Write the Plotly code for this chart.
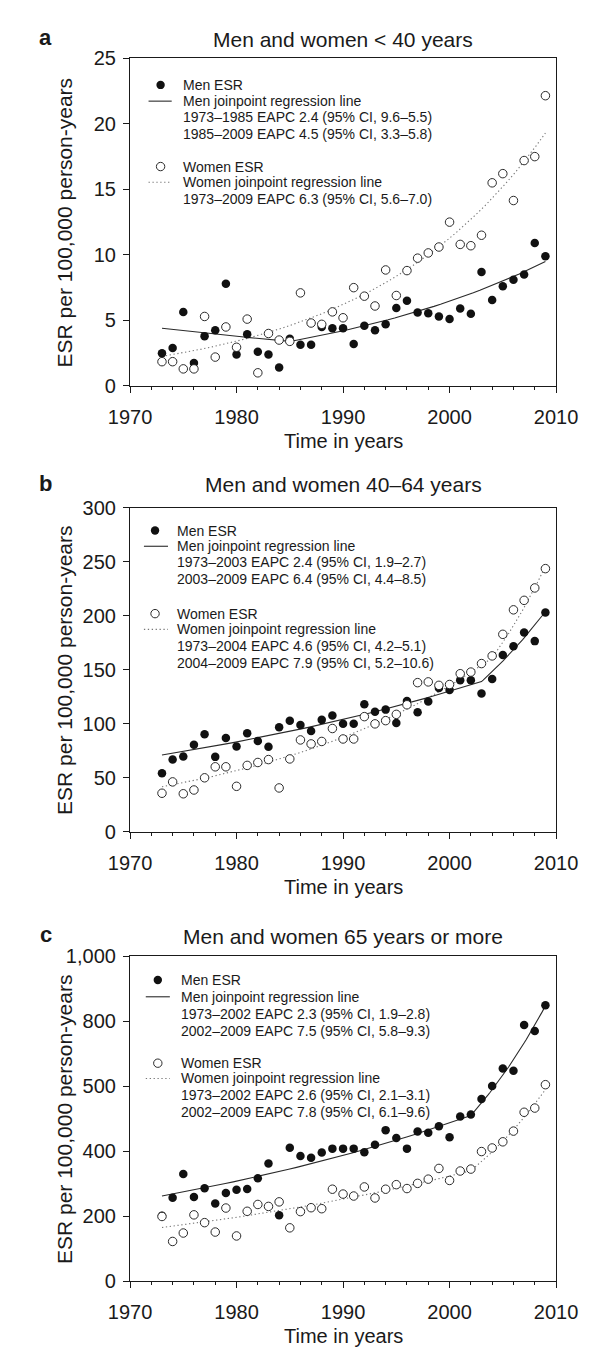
import numpy as np
import plotly.graph_objects as go

W, H = 596, 1349
FONT = "Liberation Sans, Arial, Helvetica, sans-serif"
INK = "#1a1a1a"

YEARS = list(range(1973, 2010))

# ---------------- Panel a : < 40 years ----------------
MEN_A = [2.5, 2.9, 5.65, 1.75, 3.8, 4.25, 7.8, 2.4, 3.95, 2.6, 2.4, 1.4, 3.6, 3.15, 3.15,
         4.5, 4.4, 4.4, 3.2, 4.6, 4.25, 4.7, 5.95, 6.5, 5.6, 5.55, 5.3, 5.1, 5.9, 5.5,
         8.7, 6.55, 7.6, 8.1, 8.5, 10.9, 9.9]
WOMEN_A = [1.85, 1.85, 1.3, 1.3, 5.3, 2.2, 4.5, 2.95, 5.1, 1.0, 4.0, 3.5, 3.4, 7.1, 4.8,
           4.7, 5.65, 5.2, 7.5, 6.85, 6.1, 8.85, 6.9, 8.8, 9.75, 10.15, 10.6, 12.5, 10.8,
           10.7, 11.5, 15.5, 16.2, 14.15, 17.2, 17.5, 22.15]
MEN_A_KNOT_YEARS = [1973, 1985, 2009]
MEN_A_KNOT_VALUES = [4.4, 3.4, 9.5]
WOMEN_A_KNOT_YEARS = [1973, 2009]
WOMEN_A_KNOT_VALUES = [2.25, 19.3]

# ---------------- Panel b : 40-64 years ----------------
MEN_B = [54, 66.7, 69.5, 80.4, 90.1, 69.2, 86.7, 78.8, 91, 84, 78.5, 96.7, 102.8, 98.8,
         93.2, 103.5, 107.5, 99.8, 99.8, 118, 111, 113, 100.5, 121, 110.5, 120.5, 133,
         131.2, 140.3, 140.3, 128, 141.5, 163.6, 171.7, 184.5, 176.5, 203]
WOMEN_B = [35.5, 46, 35, 38.5, 49.8, 60, 60, 41.9, 61.3, 64, 66.7, 40.4, 67.3, 84.9, 81.2,
           83.5, 95.5, 85.8, 85.8, 106.5, 99.8, 102.8, 108.6, 117.5, 138, 138.7, 135.5,
           136.3, 146.3, 147.8, 155.7, 162.8, 182.8, 205.5, 214.3, 225.8, 243.7]
MEN_B_KNOT_YEARS = [1973, 2003, 2009]
MEN_B_KNOT_VALUES = [71, 139, 204]
WOMEN_B_KNOT_YEARS = [1973, 2004, 2009]
WOMEN_B_KNOT_VALUES = [41.5, 161, 246]

# ---------------- Panel c : 65 years or more ----------------
MEN_C = [201, 257, 330, 259, 286, 239, 271, 281, 284, 317, 362, 203, 411, 385, 380, 396,
         408, 408, 408, 397, 420, 465, 441, 408, 461, 457, 477, 443, 507, 513, 561, 601,
         655, 648, 789, 770, 850]
WOMEN_C = [199, 122, 148, 204, 180, 151, 225, 139, 215, 236, 230, 244, 164, 214, 226, 223,
           283, 268, 262, 290, 256, 283, 297, 285, 301, 314, 347, 310, 339, 345, 399, 410,
           429, 462, 520, 533, 605]
MEN_C_KNOT_YEARS = [1973, 2002, 2009]
MEN_C_KNOT_VALUES = [262, 510, 848]
WOMEN_C_KNOT_YEARS = [1973, 2002, 2009]
WOMEN_C_KNOT_VALUES = [165, 340, 590]

TITLES = ["Men and women < 40 years", "Men and women 40–64 years",
          "Men and women 65 years or more"]
LETTERS = ["a", "b", "c"]
Y_RANGES = [[0, 25], [0, 300], [0, 1000]]
Y_TICKVALS = [[0, 5, 10, 15, 20, 25], [0, 50, 100, 150, 200, 250, 300],
              [0, 200, 400, 600, 800, 1000]]
Y_TICKTEXT = [["0", "5", "10", "15", "20", "25"],
              ["0", "50", "100", "150", "200", "250", "300"],
              ["0", "200", "400", "500", "800", "1,000"]]
X_TICKVALS = [1970, 1980, 1990, 2000, 2010]

LEGEND_TEXT = [
    ["Men ESR", "Men joinpoint regression line",
     "1973–1985 EAPC 2.4 (95% CI, 9.6–5.5)", "1985–2009 EAPC 4.5 (95% CI, 3.3–5.8)",
     "Women ESR", "Women joinpoint regression line",
     "1973–2009 EAPC 6.3 (95% CI, 5.6–7.0)"],
    ["Men ESR", "Men joinpoint regression line",
     "1973–2003 EAPC 2.4 (95% CI, 1.9–2.7)", "2003–2009 EAPC 6.4 (95% CI, 4.4–8.5)",
     "Women ESR", "Women joinpoint regression line",
     "1973–2004 EAPC 4.6 (95% CI, 4.2–5.1)", "2004–2009 EAPC 7.9 (95% CI, 5.2–10.6)"],
    ["Men ESR", "Men joinpoint regression line",
     "1973–2002 EAPC 2.3 (95% CI, 1.9–2.8)", "2002–2009 EAPC 7.5 (95% CI, 5.8–9.3)",
     "Women ESR", "Women joinpoint regression line",
     "1973–2002 EAPC 2.6 (95% CI, 2.1–3.1)", "2002–2009 EAPC 7.8 (95% CI, 6.1–9.6)"],
]

panels = [
    (MEN_A, WOMEN_A, MEN_A_KNOT_YEARS, MEN_A_KNOT_VALUES, WOMEN_A_KNOT_YEARS, WOMEN_A_KNOT_VALUES),
    (MEN_B, WOMEN_B, MEN_B_KNOT_YEARS, MEN_B_KNOT_VALUES, WOMEN_B_KNOT_YEARS, WOMEN_B_KNOT_VALUES),
    (MEN_C, WOMEN_C, MEN_C_KNOT_YEARS, MEN_C_KNOT_VALUES, WOMEN_C_KNOT_YEARS, WOMEN_C_KNOT_VALUES),
]

# ---- layout geometry (pixels) ----
PLOT_X0, PLOT_X1 = 108, 568
PLOT_Y = [(40, 373), (497, 826), (953, 1283)]
TITLE_Y = [21, 473, 933]
LETTER_Y = [19, 472, 931]
LEG_MARK_X = [141, 135, 138]
LEG_TEXT_X = [163, 157, 161]
LEG_LINE_X = [(128, 153), (123, 149), (125, 151)]
LEG_ROWS = [
    [67, 83.5, 100, 116.5, 150, 166, 183],
    [520, 536, 552.5, 569, 604.5, 620.5, 637.5, 655],
    [977, 994, 1012, 1029, 1061.5, 1077, 1094, 1111.5],
]
DOTTED = "1.3px,2.6px"


def pxx(x):
    return x / W


def pyy(y):
    return 1 - y / H


def joinpoint_curve(knot_years, knot_values, n=40):
    xs, ys = [], []
    for i in range(len(knot_years) - 1):
        t = np.linspace(knot_years[i], knot_years[i + 1], n)
        frac = (t - knot_years[i]) / (knot_years[i + 1] - knot_years[i])
        v = knot_values[i] * (knot_values[i + 1] / knot_values[i]) ** frac
        xs.extend(t.tolist())
        ys.extend(v.tolist())
    return xs, ys


fig = go.Figure()
annotations = []
shapes = []
layout_axes = {}

for i, (men, women, mky, mkv, wky, wkv) in enumerate(panels):
    sfx = "" if i == 0 else str(i + 1)
    xa, ya = "x" + sfx, "y" + sfx

    wx, wy = joinpoint_curve(wky, wkv)
    fig.add_trace(go.Scatter(x=wx, y=wy, mode="lines", xaxis=xa, yaxis=ya,
                             line=dict(color="#777777", width=1.1, dash=DOTTED),
                             showlegend=False, hoverinfo="skip"))
    mx, my = joinpoint_curve(mky, mkv)
    fig.add_trace(go.Scatter(x=mx, y=my, mode="lines", xaxis=xa, yaxis=ya,
                             line=dict(color="#2a2a2a", width=1.1),
                             showlegend=False, hoverinfo="skip"))
    fig.add_trace(go.Scatter(x=YEARS, y=men, mode="markers", xaxis=xa, yaxis=ya,
                             marker=dict(symbol="circle", size=8.5, color="#111111",
                                         line=dict(width=0)),
                             name="Men ESR", showlegend=False))
    fig.add_trace(go.Scatter(x=YEARS, y=women, mode="markers", xaxis=xa, yaxis=ya,
                             marker=dict(symbol="circle", size=8.5, color="white",
                                         line=dict(width=1, color="#2a2a2a")),
                             name="Women ESR", showlegend=False))

    y0, y1 = PLOT_Y[i]
    axis_common = dict(showline=True, linecolor=INK, linewidth=1.2, mirror=True,
                       ticks="outside", tickcolor=INK, tickwidth=1.1,
                       showgrid=False, zeroline=False,
                       tickfont=dict(family=FONT, size=20, color=INK))
    layout_axes["xaxis" + sfx] = dict(
        axis_common, domain=[pxx(PLOT_X0), pxx(PLOT_X1)], range=[1970, 2010],
        anchor=ya, tickvals=X_TICKVALS, ticklen=6, ticklabelstandoff=7,
        minor=dict(dtick=2, tick0=1970, ticks="outside", ticklen=3,
                   tickcolor=INK, tickwidth=1),
    )
    layout_axes["yaxis" + sfx] = dict(
        axis_common, domain=[pyy(y1), pyy(y0)], range=Y_RANGES[i], anchor=xa,
        tickvals=Y_TICKVALS[i], ticktext=Y_TICKTEXT[i], ticklen=6,
        ticklabelstandoff=3,
    )

    # titles and panel letters
    annotations.append(dict(text=TITLES[i], x=pxx((PLOT_X0 + PLOT_X1) / 2), y=pyy(TITLE_Y[i]),
                            xref="paper", yref="paper", showarrow=False,
                            xanchor="center", yanchor="middle",
                            font=dict(family=FONT, size=21, color=INK)))
    annotations.append(dict(text="<b>" + LETTERS[i] + "</b>", x=pxx(17), y=pyy(LETTER_Y[i]),
                            xref="paper", yref="paper", showarrow=False,
                            xanchor="center", yanchor="middle",
                            font=dict(family=FONT, size=22, color=INK)))
    # axis titles
    annotations.append(dict(text="ESR per 100,000 person-years", x=pxx(37),
                            y=pyy((y0 + y1) / 2), xref="paper", yref="paper",
                            showarrow=False, textangle=-90, xanchor="center",
                            yanchor="middle", font=dict(family=FONT, size=21, color=INK)))
    annotations.append(dict(text="Time in years", x=pxx((PLOT_X0 + PLOT_X1) / 2),
                            y=pyy(y1 + 56), xref="paper", yref="paper", showarrow=False,
                            xanchor="center", yanchor="middle",
                            font=dict(family=FONT, size=20, color=INK)))

    # legend block
    rows = LEG_ROWS[i]
    for text, ry in zip(LEGEND_TEXT[i], rows):
        annotations.append(dict(text=text, x=pxx(LEG_TEXT_X[i]), y=pyy(ry),
                                xref="paper", yref="paper", showarrow=False,
                                xanchor="left", yanchor="middle",
                                font=dict(family=FONT, size=14, color=INK)))
    women_row = LEGEND_TEXT[i].index("Women ESR")
    shapes.append(dict(type="circle", xref="paper", yref="paper",
                       xsizemode="pixel", ysizemode="pixel",
                       xanchor=pxx(LEG_MARK_X[i]), yanchor=pyy(rows[0]),
                       x0=-4.2, x1=4.2, y0=-4.2, y1=4.2,
                       fillcolor="#111111", line=dict(width=0)))
    shapes.append(dict(type="circle", xref="paper", yref="paper",
                       xsizemode="pixel", ysizemode="pixel",
                       xanchor=pxx(LEG_MARK_X[i]), yanchor=pyy(rows[women_row]),
                       x0=-4.2, x1=4.2, y0=-4.2, y1=4.2,
                       fillcolor="white", line=dict(width=1, color="#2a2a2a")))
    lx0, lx1 = LEG_LINE_X[i]
    shapes.append(dict(type="line", xref="paper", yref="paper",
                       x0=pxx(lx0), x1=pxx(lx1), y0=pyy(rows[1]), y1=pyy(rows[1]),
                       line=dict(color="#2a2a2a", width=1.1)))
    shapes.append(dict(type="line", xref="paper", yref="paper",
                       x0=pxx(lx0), x1=pxx(lx1), y0=pyy(rows[women_row + 1]),
                       y1=pyy(rows[women_row + 1]),
                       line=dict(color="#777777", width=1.1, dash=DOTTED)))

fig.update_layout(
    width=W, height=H, autosize=False,
    margin=dict(l=0, r=0, t=0, b=0),
    paper_bgcolor="white", plot_bgcolor="white",
    showlegend=False,
    font=dict(family=FONT, color=INK),
    annotations=annotations, shapes=shapes,
    **layout_axes,
)

fig.write_html("out.html")
